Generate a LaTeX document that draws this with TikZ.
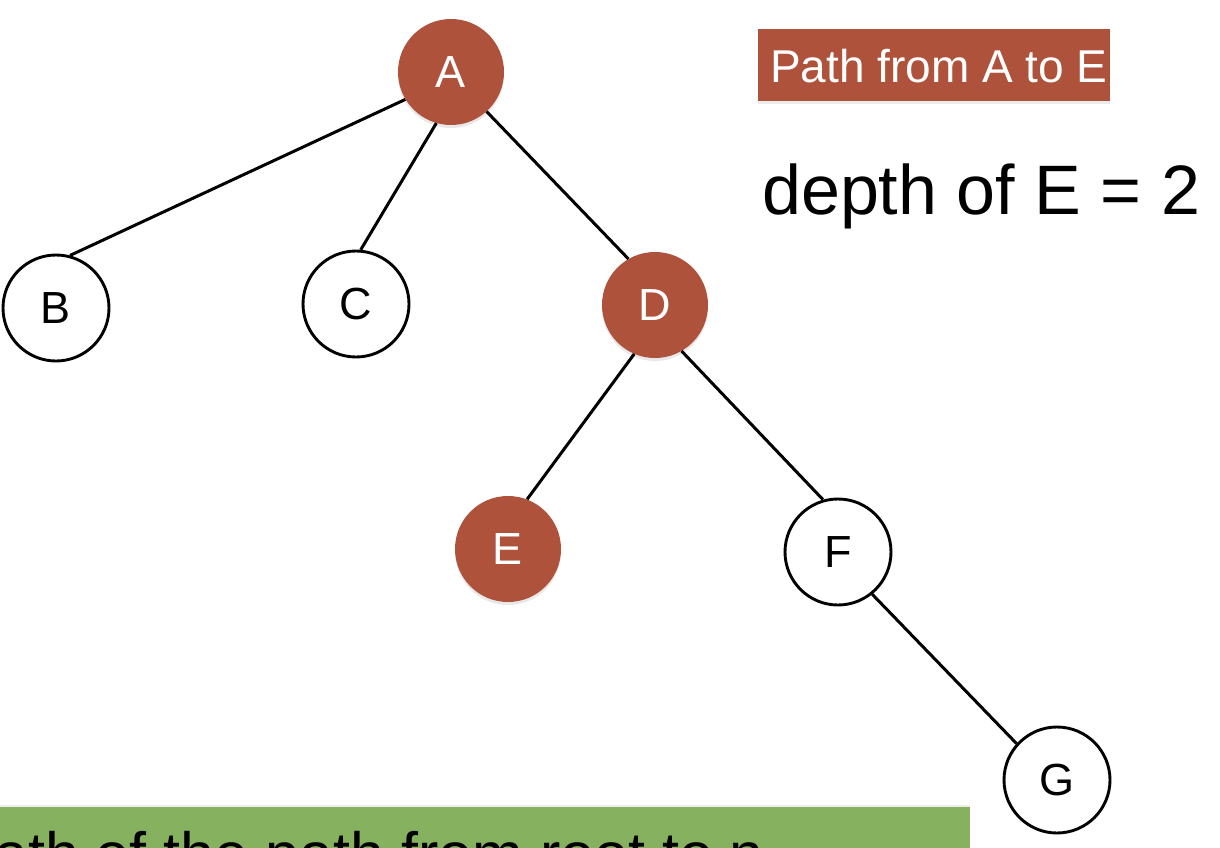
\documentclass[tikz,border=0pt]{standalone}
\usepackage{fontspec}
\setmainfont{Liberation Sans}
\usetikzlibrary{shadows}
\definecolor{nodebrown}{RGB}{174,82,60}
\definecolor{boxgreen}{RGB}{134,178,95}
\tikzset{
  treenode/.style={circle, minimum size=106pt, inner sep=0pt, font=\fontsize{45}{48}\selectfont},
  plainnode/.style={treenode, draw=black, line width=2.9pt, fill=white},
  pathnode/.style={treenode, fill=nodebrown, text=white,
     drop shadow={shadow xshift=0pt, shadow yshift=-3pt, opacity=0.18}},
  edge/.style={line width=3pt, black}
}
\begin{document}
\begin{tikzpicture}[x=1pt,y=-1pt]
\useasboundingbox (0,0) rectangle (1220,848);
\clip (0,0) rectangle (1220,848);
\fill[white] (0,0) rectangle (1220,848);
% green box at bottom
\node[fill=boxgreen, minimum width=980pt, minimum height=100pt, inner sep=0pt, anchor=north west,
      drop shadow={shadow xshift=0pt, shadow yshift=2pt, opacity=0.15}] (greenbox) at (-10,807) {};
\node[anchor=base west, inner sep=0pt, font=\fontsize{61}{64}\selectfont] (greentext) at (-6,875) {ath of the path from root to n};
% nodes
\node[pathnode] (A) at (451,72) {A};
\node[plainnode] (B) at (56,308) {B};
\node[plainnode] (C) at (356,304) {C};
\node[pathnode] (D) at (655,305) {D};
\node[pathnode] (E) at (508,549) {E};
\node[plainnode] (F) at (838,552) {F};
\node[plainnode] (G) at (1057,780) {G};
% edges
\draw[edge] (A.211) -- (B.75);
\draw[edge] (A.254) -- (C.85);
\draw[edge] (A.312) -- (D.120);
\draw[edge] (D.247) -- (E.69);
\draw[edge] (D.300) -- (F.106);
\draw[edge] (F.309) -- (G.138);
% labels
\node[fill=nodebrown, anchor=north west, minimum width=352pt, minimum height=72pt, inner sep=0pt,
      drop shadow={shadow xshift=0pt, shadow yshift=-3pt, opacity=0.15}] (pathbox) at (758,29) {};
\node[anchor=base west, inner sep=0pt, text=white, font=\fontsize{46}{50}\selectfont] (pathlbl) at (770,83) {Path from A to E};
\node[anchor=base west, inner sep=0pt, font=\fontsize{70}{74}\selectfont] (depthlbl) at (762,214) {depth of E = 2};
\end{tikzpicture}
\end{document}
